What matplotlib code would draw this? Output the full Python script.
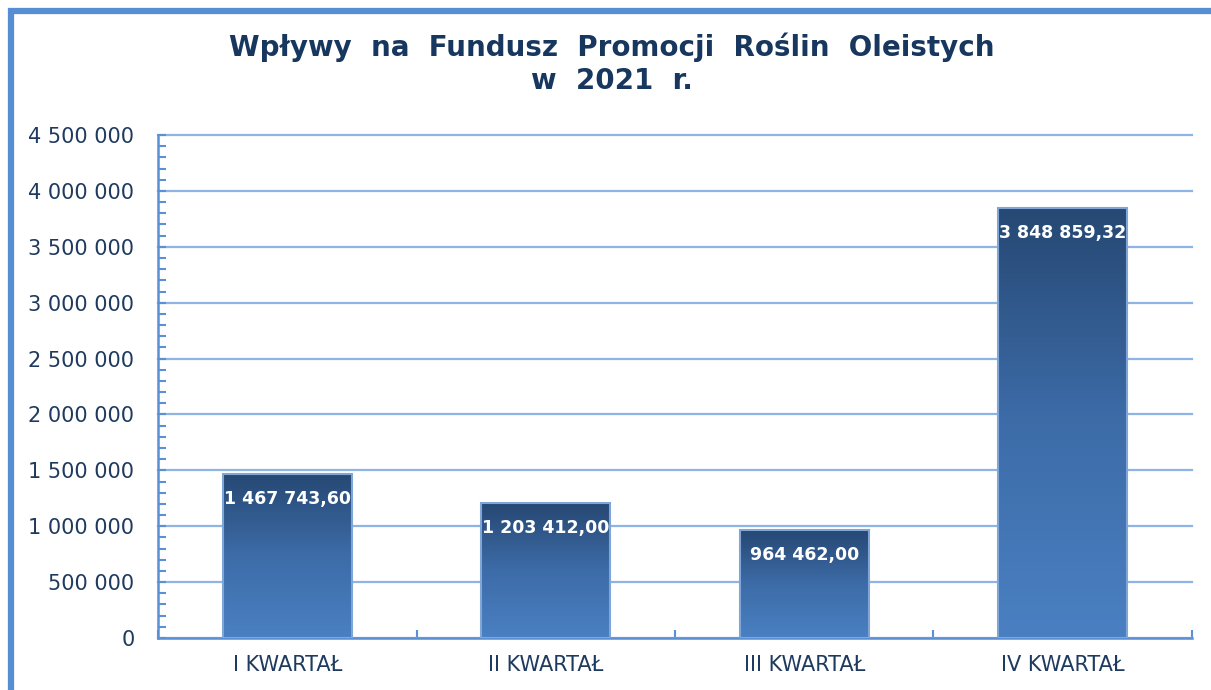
import matplotlib.pyplot as plt
import numpy as np
from matplotlib.colors import LinearSegmentedColormap
from matplotlib.patches import Rectangle
from matplotlib.ticker import MultipleLocator, FuncFormatter

# Data
categories = ["I KWARTAŁ", "II KWARTAŁ", "III KWARTAŁ", "IV KWARTAŁ"]
values = [1467743.60, 1203412.00, 964462.00, 3848859.32]
value_labels = ["1 467 743,60", "1 203 412,00", "964 462,00", "3 848 859,32"]

title = "Wpływy  na  Fundusz  Promocji  Roślin  Oleistych\nw  2021  r."

text_color = "#1F3A5F"
grid_color = "#8EB4E3"
axis_color = "#5B8FD6"

fig = plt.figure(figsize=(12.11, 6.90), dpi=100)
ax = fig.add_axes([0.1305, 0.0754, 0.8538, 0.7289])

# outer frame (top and left visible, rest cut off)
fig.patches.append(Rectangle((11 / 1211, -0.1), 1.2, 1.1 - 11 / 690,
                             transform=fig.transFigure, fill=False,
                             edgecolor="#558ED5", linewidth=4.5, zorder=10))

x = np.arange(len(categories))
bars = ax.bar(x, values, width=0.5, color="none", edgecolor="#7FA6D6",
              linewidth=1.5, zorder=3)

cmap = LinearSegmentedColormap.from_list("grad", ["#4A80C2", "#3D6CA8", "#264873"])
grad = np.linspace(0, 1, 256).reshape(-1, 1)
for b in bars:
    x0, y0 = b.get_x(), b.get_y()
    w, h = b.get_width(), b.get_height()
    ax.imshow(grad, extent=(x0, x0 + w, y0, y0 + h), origin="lower",
              cmap=cmap, aspect="auto", zorder=2.5)

for b, lab in zip(bars, value_labels):
    ax.annotate(lab, (b.get_x() + b.get_width() / 2, b.get_height()),
                xytext=(0, -18), textcoords="offset points",
                ha="center", va="center", color="white",
                fontsize=12.5, fontweight="bold", zorder=5)

ax.set_xlim(-0.5, len(categories) - 0.5)
ax.set_ylim(0, 4500000)
ax.set_xticks(x)
ax.set_xticklabels(categories, fontsize=15, color=text_color)
ax.tick_params(axis="x", length=0, pad=12)
# category boundary ticks
ax.set_xticks(np.arange(-0.5, len(categories)), minor=True)
ax.tick_params(axis="x", which="minor", direction="in", length=6,
               color=axis_color, width=1.5)

ax.yaxis.set_major_locator(MultipleLocator(500000))
ax.yaxis.set_minor_locator(MultipleLocator(100000))
ax.yaxis.set_major_formatter(FuncFormatter(lambda v, p: f"{int(v):,}".replace(",", " ")))
ax.tick_params(axis="y", which="both", direction="in", length=6,
               color=axis_color, width=1.5, labelsize=15,
               labelcolor=text_color, pad=17)

ax.grid(axis="y", color=grid_color, linewidth=1.6, zorder=0)
for gl in ax.get_ygridlines():
    gl.set_clip_on(False)
ax.set_axisbelow(True)
for s in ["top", "right"]:
    ax.spines[s].set_visible(False)
for s in ["left", "bottom"]:
    ax.spines[s].set_color(axis_color)
    ax.spines[s].set_linewidth(1.8)

fig.text(0.505, 0.908, title, ha="center", va="center", fontsize=20,
         fontweight="bold", color="#17375E", linespacing=1.22)

fig.savefig("out.png", dpi=100)
